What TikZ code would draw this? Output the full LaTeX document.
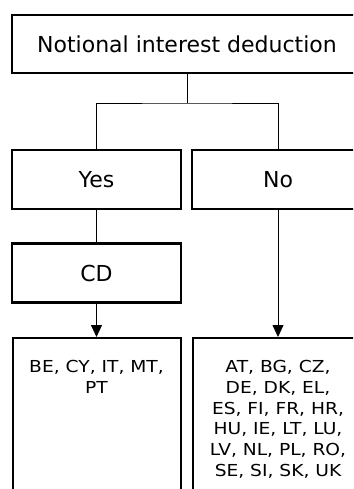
\documentclass[tikz,border=0pt]{standalone}
\usepackage{fontspec}
\setmainfont{DejaVu Sans}
\newfontfamily\listfont[FakeStretch=1.13]{DejaVu Sans}
\usetikzlibrary{arrows.meta}
\begin{document}
\begin{tikzpicture}[x=1pt,y=1pt,
  box/.style={draw=black, line width=1.5pt, inner sep=0pt, fill=white},
  headbox/.style={box, font=\fontsize{22}{26}\selectfont},
  listtext/.style={inner sep=0pt, align=center, font=\listfont\fontsize{16.5}{20.8}\selectfont},
  link/.style={draw=black, line width=0.8pt},
  arrow/.style={link, -{Triangle[width=11pt,length=12pt]}}]
\useasboundingbox (0,0) rectangle (353,-489);
\clip (0,0) rectangle (353,-489);
% top question
\node[headbox, minimum width=350pt, minimum height=58pt] (title) at (187,-44) {Notional interest deduction};
% answers
\node[headbox, minimum width=169pt, minimum height=59pt] (yes) at (96.5,-179.5) {Yes};
\node[headbox, minimum width=172pt, minimum height=59pt] (no) at (278,-179.5) {No};
\node[headbox, line width=2.6pt, minimum width=169pt, minimum height=59pt] (cd) at (96.5,-273) {CD};
% country lists
\node[box, minimum width=168pt, minimum height=190pt, anchor=north west] (lbox) at (12,-337) {};
\node[box, minimum width=172pt, minimum height=190pt, anchor=north west] (rbox) at (192,-337) {};
\node[listtext, anchor=north] (ltext) at (96.5,-360) {BE, CY, IT, MT,\\PT};
\node[listtext, anchor=north] (rtext) at (278,-360) {AT, BG, CZ,\\DE, DK, EL,\\ES, FI, FR, HR,\\HU, IE, LT, LU,\\LV, NL, PL, RO,\\SE, SI, SK, UK};
% connectors
\coordinate (split) at (187,-103);
\draw[link] (title.south) -- (split);
\draw[link] (yes.north) |- (split) -| (no.north);
\draw[link] (yes.south) -- (cd.north);
\draw[arrow] (cd.south) -- (lbox.north -| cd.south);
\draw[arrow] (no.south) -- (rbox.north -| no.south);
\end{tikzpicture}
\end{document}
